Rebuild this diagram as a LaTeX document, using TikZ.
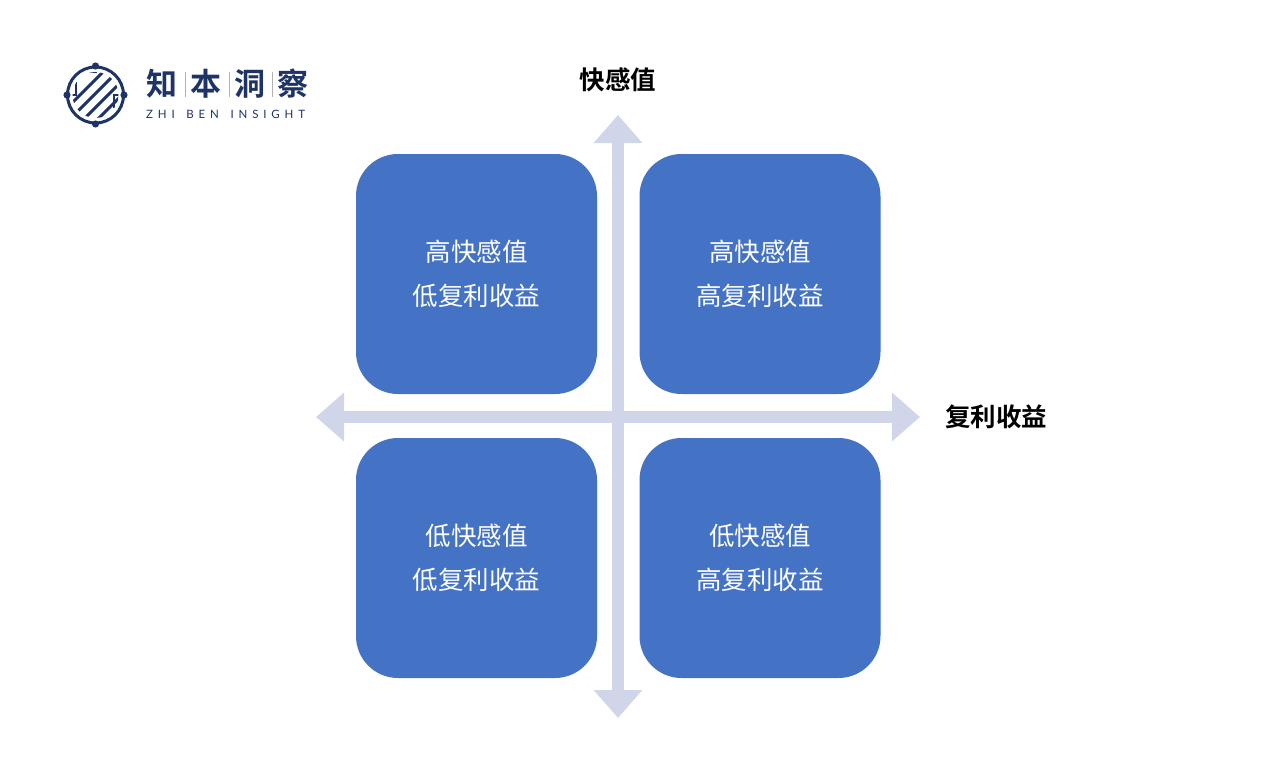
\documentclass[tikz,border=0pt]{standalone}
\usepackage{fontspec}
\setmainfont{Lato}
\newfontfamily\cjk{Noto Sans CJK SC}
\newfontfamily\cjkb{Noto Sans CJK SC Bold}
\newfontfamily\logolatin[LetterSpace=42,WordSpace=1.5]{Lato}
\usetikzlibrary{arrows.meta}

\definecolor{quadblue}{HTML}{4472C4}
\definecolor{axisgray}{HTML}{D0D5EA}
\definecolor{logonavy}{HTML}{1E3366}

\begin{document}
\begin{tikzpicture}[x=1pt, y=-1pt,
  quad/.style={fill=quadblue, rounded corners=42pt, minimum width=241pt, minimum height=240pt,
    text=white, align=center, font=\cjk\fontsize{25.5}{44}\selectfont},
  axis/.style={axisgray, line width=12pt,
    {Triangle[length=28pt,width=47pt]}-{Triangle[length=28pt,width=47pt]}},
  axlabel/.style={font=\cjkb\fontsize{25.5}{30}\selectfont},
  logoword/.style={text=logonavy, font=\cjkb\fontsize{31}{34}\selectfont, inner sep=0pt}]

\useasboundingbox (0,0) rectangle (1280,760);

% logo
\draw [logonavy, line width=3pt] (95.5,95) circle (28);
\fill [logonavy] (95.5,66) circle (3.6);
\fill [logonavy] (95.5,124) circle (3.6);
\fill [logonavy] (67,95) circle (3.6);
\fill [logonavy] (124,95) circle (3.6);
\begin{scope}
\clip (95.5,95) circle (23);
\draw [logonavy, line width=3pt] (70,105) -- (110,65);
\draw [logonavy, line width=3pt] (76,113) -- (118,71);
\draw [logonavy, line width=3pt] (84,119) -- (124,79);
\draw [logonavy, line width=3pt] (92,125) -- (130,87);
\draw [logonavy, line width=2.6pt] (67,95) -- (76,95) -- (76,82);
\draw [logonavy, line width=2.6pt] (124,95) -- (114,95) -- (114,108);
\draw [logonavy, line width=2.6pt] (95.5,66) -- (95.5,72) -- (86,72);
\end{scope}

\node [logoword] (zhi) at (162,84) {知};
\node [logoword] (ben) at (206,84) {本};
\node [logoword] (dong) at (250,84) {洞};
\node [logoword] (cha) at (293,84) {察};
\draw [gray!60, line width=0.8pt] (185,72) -- (185,97);
\draw [gray!60, line width=0.8pt] (229,72) -- (229,97);
\draw [gray!60, line width=0.8pt] (272,72) -- (272,97);
\node [anchor=west, text=logonavy, inner sep=0pt, font=\logolatin\fontsize{11.5}{13}\selectfont]
  (insight) at (146,114) {ZHI BEN INSIGHT};

% axes
\coordinate (ytop) at (618,115);
\coordinate (ybot) at (618,718);
\coordinate (xleft) at (316,417);
\coordinate (xright) at (920,417);
\draw [axis] (ybot) -- (ytop);
\draw [axis] (xleft) -- (xright);

\node [axlabel] (ylabel) at (618,80) {快感值};
\node [axlabel] (xlabel) at (996,417) {复利收益};

% quadrants
\node [quad] (hl) at (476.5,274) {高快感值\\低复利收益};
\node [quad] (hh) at (760,274) {高快感值\\高复利收益};
\node [quad] (ll) at (476.5,558) {低快感值\\低复利收益};
\node [quad] (lh) at (760,558) {低快感值\\高复利收益};

\end{tikzpicture}
\end{document}
